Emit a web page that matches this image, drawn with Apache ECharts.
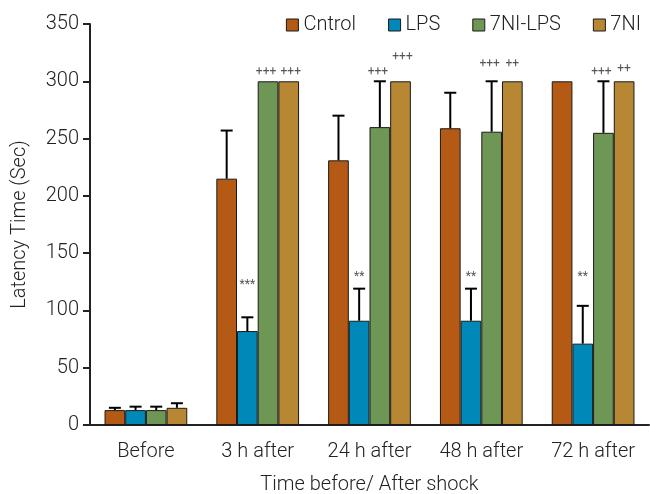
<!DOCTYPE html>
<html><head><meta charset="utf-8">
<script src="https://cdn.jsdelivr.net/npm/echarts@6/dist/echarts.min.js"></script>
<style>html,body{margin:0;padding:0;background:#fff}#c{width:650px;height:494px}</style>
</head><body><div id="c"></div>
<script>
const categories = ['Before', '3 h after', '24 h after', '48 h after', '72 h after'];
const seriesNames = ['Cntrol', 'LPS', '7NI-LPS', '7NI'];
const cntrol = [13, 215, 231, 259, 300];
const lps = [13, 82, 91, 91, 71];
const ni7lps = [13, 300, 260, 256, 255];
const ni7 = [15, 300, 300, 300, 300];
const cntrolErr = [15, 257, 270, 290, 300];
const lpsErr = [16, 94, 119, 119, 104];
const ni7lpsErr = [16, 300, 300, 300, 300];
const ni7Err = [19, 300, 300, 300, 300];
// annotations: [categoryIndex, seriesIndex, text, y value]
const annotations = [
  [1, 1, '***', 122], [2, 1, '**', 129], [3, 1, '**', 129], [4, 1, '**', 129],
  [1, 2, '+++', 308], [1, 3, '+++', 308],
  [2, 2, '+++', 308], [2, 3, '+++', 321],
  [3, 2, '+++', 315], [3, 3, '++', 315],
  [4, 2, '+++', 308], [4, 3, '++', 311]
];
const colors = ['#B55A14', '#0088B8', '#6E9655', '#B88734'];
const values = [cntrol, lps, ni7lps, ni7];
const errs = [cntrolErr, lpsErr, ni7lpsErr, ni7Err];
const yTicks = [0, 50, 100, 150, 200, 250, 300, 350];

const FONT = "Roboto, 'Noto Sans', sans-serif";
const W = 300;
const GAP = 0.26;
function barOffset(api, s) {
  const band = api.size([1, 0])[0];
  const bw = band * (1 - GAP) / 4;
  return { bw, off: (s - 1.5) * bw };
}

const errData = [];
for (let s = 0; s < 4; s++) for (let c = 0; c < categories.length; c++) {
  if (errs[s][c] > values[s][c]) errData.push([c, errs[s][c], values[s][c], s]);
}

const chart = echarts.init(document.getElementById('c'));
const series = seriesNames.map((n, s) => ({
  name: n, type: 'bar', data: values[s], barGap: 0, barCategoryGap: '26%',
  itemStyle: { color: colors[s], borderColor: '#1a1a1a', borderWidth: 1 },
  z: 2
}));
series.push({
  type: 'custom', z: 3, silent: true,
  data: errData,
  renderItem: function (params, api) {
    const c = api.value(0), top = api.value(1), base = api.value(2), s = api.value(3);
    const { off } = barOffset(api, s);
    const pTop = api.coord([c, top]);
    const pBase = api.coord([c, base]);
    const x = pTop[0] + off;
    const hw = 6;
    return { type: 'group', children: [
      { type: 'line', shape: { x1: x, y1: pBase[1], x2: x, y2: pTop[1] }, style: { stroke: '#000', lineWidth: 2 } },
      { type: 'line', shape: { x1: x - hw, y1: pTop[1], x2: x + hw, y2: pTop[1] }, style: { stroke: '#000', lineWidth: 2 } }
    ]};
  }
});
series.push({
  type: 'custom', z: 4, silent: true,
  data: annotations.map(a => [a[0], a[3], a[1]]),
  renderItem: function (params, api) {
    const c = api.value(0), y = api.value(1), s = api.value(2);
    const txt = annotations[params.dataIndex][2];
    const { off } = barOffset(api, s);
    const p = api.coord([c, y]);
    const nudge = (txt === '+++' && s === 2) ? -2 : (txt === '+++' && s === 3 ? 2 : 0);
    return { type: 'text', x: p[0] + off + nudge, y: p[1], style: { text: txt, fill: '#555', font: '12px ' + FONT, align: 'center', verticalAlign: 'middle' } };
  }
});

chart.setOption({
  animation: false,
  color: colors,
  textStyle: { fontFamily: FONT },
  grid: { left: 90, right: 1, top: 24, bottom: 69, containLabel: false, outerBoundsMode: 'none' },
  legend: {
    data: seriesNames, right: 4, top: 10, itemWidth: 12, itemHeight: 12, itemGap: 32,
    icon: 'rect',
    itemStyle: { borderColor: '#1a1a1a', borderWidth: 1 },
    textStyle: { fontSize: 20, color: '#222', fontFamily: FONT, fontWeight: W }
  },
  xAxis: {
    type: 'category', data: categories,
    name: 'Time before/ After shock', nameLocation: 'middle', nameGap: 50,
    nameTextStyle: { fontSize: 20, color: '#222', fontFamily: FONT, fontWeight: W },
    axisLine: { lineStyle: { color: '#222', width: 2 } },
    axisTick: { alignWithLabel: false, length: 7, lineStyle: { color: '#222', width: 2 } },
    axisLabel: { fontSize: 20, color: '#222', margin: 17, fontFamily: FONT, fontWeight: W }
  },
  yAxis: {
    type: 'value', min: yTicks[0], max: yTicks[yTicks.length - 1], interval: 50,
    name: 'Latency Time (Sec)', nameLocation: 'middle', nameGap: 60,
    nameTextStyle: { fontSize: 20, color: '#222', fontFamily: FONT, fontWeight: W },
    axisLine: { show: true, lineStyle: { color: '#222', width: 2 } },
    axisTick: { show: true, length: 7, lineStyle: { color: '#222', width: 2 } },
    axisLabel: { fontSize: 20, color: '#222', margin: 11, fontFamily: FONT, fontWeight: W },
    splitLine: { show: false }
  },
  series: series
});
</script></body></html>
